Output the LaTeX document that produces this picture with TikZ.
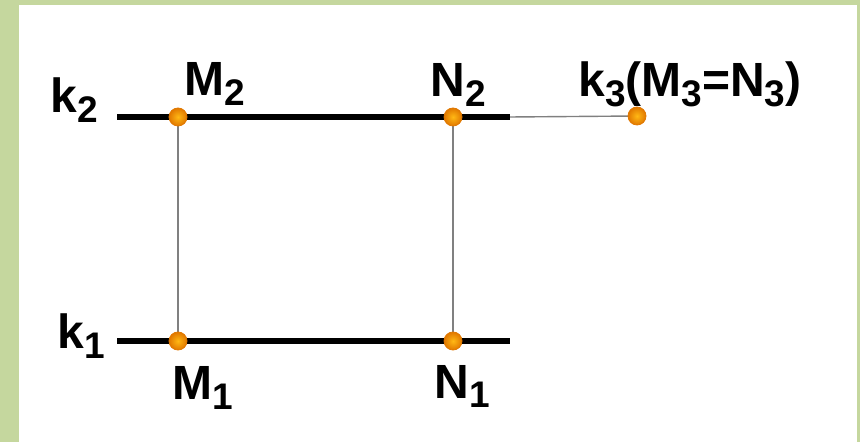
\documentclass[tikz,border=0pt]{standalone}
\usepackage{fontspec}
\setmainfont{Liberation Sans}
\definecolor{framegreen}{RGB}{197,215,158}
\definecolor{dotfill}{RGB}{255,184,20}
\definecolor{dotedge}{RGB}{225,120,0}
\newcommand{\lsub}[1]{\raisebox{-5pt}{\fontsize{18.5}{20}\selectfont #1}}
\begin{document}
\begin{tikzpicture}[x=0.5pt,y=-0.5pt,
  lbl/.style={inner sep=0pt,anchor=base west,font=\fontsize{24}{28}\selectfont\bfseries},
  trace/.style={line width=2.6pt,black},
  link/.style={line width=0.7pt,gray},
  dot/.style={circle,inner sep=0pt,minimum size=9pt,draw=dotedge,line width=0.4pt,
    inner color=dotfill,outer color=dotedge}]
% frame
\fill[framegreen] (0,0) rectangle (860,442);
\fill[white] (19,5) rectangle (857,442);

% line ends
\coordinate (k2w) at (117,117);
\coordinate (k2e) at (510,117);
\coordinate (k1w) at (117,341);
\coordinate (k1e) at (510,341);

% points
\coordinate (M2) at (178,117);
\coordinate (N2) at (453,117);
\coordinate (K3) at (637,116);
\coordinate (M1) at (178,341);
\coordinate (N1) at (453,341);

% thin links
\draw[link] (M2) -- (M1);
\draw[link] (N2) -- (N1);
\draw[link] (k2e) -- (K3);

% the two lines
\draw[trace] (k2w) -- (k2e);
\draw[trace] (k1w) -- (k1e);

\node[dot] (m2) at (M2) {};
\node[dot] (n2) at (N2) {};
\node[dot] (k3) at (K3) {};
\node[dot] (m1) at (M1) {};
\node[dot] (n1) at (N1) {};

% labels
\node[lbl] (k2lbl) at (50,113) {k\lsub{2}};
\node[lbl] (m2lbl) at (184,96) {M\lsub{2}};
\node[lbl] (n2lbl) at (430,97) {N\lsub{2}};
\node[lbl] (k3lbl) at (578,97) {k\lsub{3}(M\lsub{3}=N\lsub{3})};
\node[lbl] (k1lbl) at (57,349) {k\lsub{1}};
\node[lbl] (m1lbl) at (172,400) {M\lsub{1}};
\node[lbl] (n1lbl) at (434,398) {N\lsub{1}};
\end{tikzpicture}
\end{document}
